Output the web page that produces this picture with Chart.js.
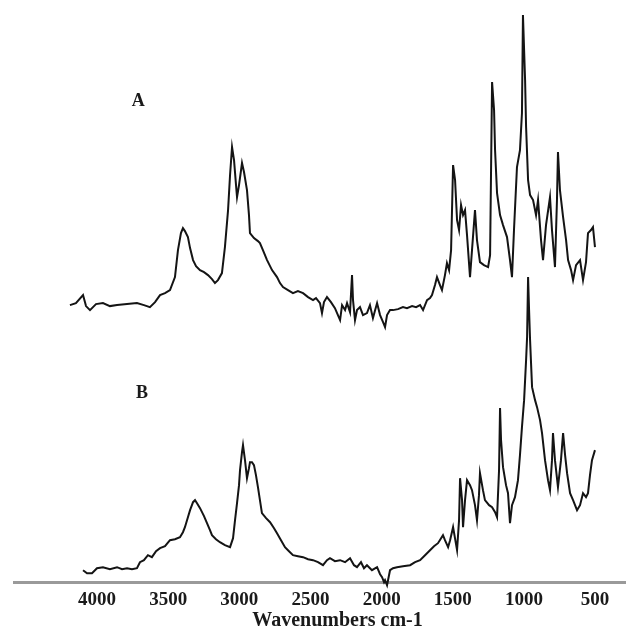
<!DOCTYPE html>
<html>
<head>
<meta charset="utf-8">
<script src="https://cdn.jsdelivr.net/npm/chart.js@4/dist/chart.umd.min.js"></script>
<style>
  html, body { margin: 0; padding: 0; background: #fff; }
  canvas { display: block; }
</style>
</head>
<body>
<canvas id="ir" width="626" height="628"></canvas>
<script>
// tick labels on the wavenumber axis
const tickLabels = [4000, 3500, 3000, 2500, 2000, 1500, 1000, 500];

// spectrum A (upper trace): wavenumber (cm-1) and intensity (a.u.)
const wnA = [4190, 4148, 4098, 4077, 4049, 4007, 3958, 3909, 3859, 3789, 3719, 3670, 3628, 3592, 3557, 3522, 3487, 3452, 3431, 3410,
  3396, 3382, 3361, 3346, 3325, 3304, 3276, 3248, 3220, 3192, 3171, 3150, 3122, 3101, 3079, 3065, 3051, 3037, 3023, 3016,
  3002, 2981, 2967, 2946, 2932, 2925, 2897, 2869, 2855, 2834, 2805, 2770, 2735, 2714, 2693, 2658, 2623, 2588, 2552, 2517,
  2482, 2461, 2433, 2419, 2405, 2384, 2356, 2328, 2307, 2292, 2278, 2257, 2243, 2222, 2208, 2201, 2187, 2173, 2152, 2131,
  2103, 2082, 2061, 2032, 2011, 1990, 1976, 1962, 1941, 1920, 1885, 1850, 1822, 1786, 1758, 1730, 1709, 1681, 1660, 1646,
  1625, 1611, 1590, 1576, 1555, 1541, 1526, 1512, 1498, 1484, 1470, 1456, 1442, 1428, 1414, 1400, 1379, 1365, 1344, 1330,
  1309, 1281, 1252, 1238, 1224, 1210, 1203, 1189, 1168, 1147, 1119, 1098, 1084, 1070, 1049, 1028, 1014, 1007, 992, 985,
  971, 957, 936, 915, 901, 880, 866, 845, 817, 803, 782, 768, 761, 747, 725, 704, 690, 669, 655, 634,
  606, 585, 564, 550, 529, 515, 501];
const intA = [277, 279, 287, 276, 272, 278, 279, 276, 277, 278, 279, 277, 275, 280, 287, 289, 292, 305, 332, 349,
  354, 351, 345, 334, 322, 316, 312, 310, 307, 303, 299, 302, 309, 335, 372, 407, 435, 422, 397, 385,
  397, 419, 410, 392, 367, 349, 344, 341, 339, 332, 322, 312, 305, 299, 295, 292, 289, 291, 289, 285,
  282, 284, 279, 269, 280, 285, 280, 274, 267, 262, 277, 272, 279, 270, 307, 282, 262, 272, 275, 267,
  269, 277, 264, 279, 267, 260, 255, 267, 272, 272, 273, 275, 274, 276, 275, 277, 272, 282, 284, 287,
  297, 305, 297, 292, 307, 319, 312, 332, 417, 402, 362, 352, 377, 367, 372, 347, 305, 332, 372, 342,
  320, 317, 315, 327, 500, 472, 432, 389, 367, 357, 345, 322, 305, 352, 415, 432, 469, 567, 502, 455,
  402, 387, 382, 367, 382, 342, 322, 357, 385, 352, 315, 382, 430, 392, 365, 342, 322, 312, 302, 317,
  322, 302, 320, 349, 352, 355, 335];

// spectrum B (lower trace)
const wnB = [4098, 4070, 4035, 4000, 3958, 3909, 3859, 3824, 3789, 3754, 3719, 3698, 3670, 3642, 3614, 3585, 3557, 3522, 3487, 3452,
  3417, 3396, 3382, 3361, 3346, 3325, 3311, 3297, 3276, 3248, 3227, 3206, 3192, 3164, 3136, 3101, 3065, 3044, 3030, 3016,
  3002, 2995, 2981, 2974, 2960, 2946, 2932, 2925, 2911, 2897, 2883, 2869, 2855, 2841, 2812, 2784, 2756, 2735, 2707, 2679,
  2651, 2623, 2588, 2552, 2517, 2482, 2447, 2412, 2384, 2363, 2328, 2292, 2257, 2222, 2194, 2173, 2145, 2124, 2103, 2068,
  2032, 2011, 1997, 1983, 1976, 1962, 1941, 1920, 1892, 1850, 1800, 1765, 1730, 1695, 1660, 1632, 1604, 1569, 1555, 1533,
  1519, 1498, 1470, 1456, 1449, 1435, 1428, 1414, 1400, 1379, 1365, 1344, 1330, 1316, 1309, 1288, 1274, 1245, 1224, 1203,
  1189, 1175, 1168, 1161, 1147, 1126, 1112, 1098, 1084, 1063, 1042, 1028, 1014, 999, 992, 985, 978, 971, 964, 957,
  943, 922, 908, 887, 873, 852, 831, 817, 803, 796, 782, 761, 740, 725, 711, 697, 676, 655, 627, 606,
  585, 564, 550, 536, 522, 501];
const intB = [12, 9, 9, 14, 15, 13, 15, 13, 14, 13, 14, 20, 22, 27, 25, 31, 34, 36, 42, 43,
  45, 50, 55, 65, 72, 80, 82, 79, 74, 66, 59, 52, 47, 43, 40, 37, 35, 44, 62, 79,
  97, 112, 130, 137, 122, 104, 114, 120, 120, 117, 107, 95, 82, 69, 64, 60, 54, 49, 42, 35,
  31, 27, 26, 25, 23, 22, 20, 17, 22, 24, 21, 22, 20, 24, 17, 15, 20, 14, 17, 12,
  15, 8, 5, 0, 2, -3, 12, 14, 15, 16, 17, 20, 22, 27, 32, 36, 39, 47, 42, 35,
  42, 55, 32, 62, 104, 82, 55, 82, 102, 97, 92, 77, 62, 87, 109, 92, 82, 77, 75, 70,
  65, 112, 174, 142, 115, 97, 89, 59, 77, 85, 102, 127, 155, 182, 202, 222, 245, 305, 272, 242,
  195, 182, 175, 162, 149, 122, 102, 92, 122, 149, 122, 95, 122, 149, 127, 109, 89, 82, 72, 77,
  89, 85, 89, 107, 122, 132];

const serif = '"Liberation Serif", "Times New Roman", serif';

// oznake A / B i naslov osi
const textPlugin = {
  id: 'texts',
  afterDraw(chart) {
    const { ctx, scales: { x, y } } = chart;
    ctx.save();
    ctx.fillStyle = '#1a1a1a';
    ctx.textAlign = 'center';
    ctx.textBaseline = 'middle';
    ctx.font = 'bold 18px ' + serif;
    ctx.fillText('A', x.getPixelForValue(3710), y.getPixelForValue(481));
    ctx.fillText('B', x.getPixelForValue(3684), y.getPixelForValue(189));
    ctx.font = 'bold 20px ' + serif;
    ctx.textBaseline = 'alphabetic';
    ctx.fillText('Wavenumbers cm-1', x.getPixelForValue(2310), chart.height - 2);
    ctx.restore();
  }
};

const toPoints = (xs, ys) => xs.map((v, i) => ({ x: v, y: ys[i] }));

new Chart(document.getElementById('ir'), {
  type: 'line',
  data: {
    datasets: [
      { label: 'A', data: toPoints(wnA, intA) },
      { label: 'B', data: toPoints(wnB, intB) }
    ]
  },
  options: {
    responsive: false,
    devicePixelRatio: 1,
    animation: false,
    clip: false,
    layout: { padding: { left: 14, right: 0, top: 0, bottom: 11 } },
    elements: {
      line: { borderColor: '#141414', borderWidth: 2, tension: 0, fill: false },
      point: { radius: 0 }
    },
    plugins: { legend: { display: false }, tooltip: { enabled: false } },
    scales: {
      x: {
        type: 'linear',
        reverse: true,
        min: 283,
        max: 4583,
        afterBuildTicks: axis => { axis.ticks = tickLabels.map(v => ({ value: v })); },
        grid: { display: false, drawTicks: false, tickLength: 0 },
        border: { display: true, color: '#9a9a9a', width: 3 },
        ticks: {
          padding: 6,
          maxRotation: 0,
          autoSkip: false,
          color: '#1a1a1a',
          font: { family: serif, size: 19, weight: 'bold' },
          callback: v => String(v)
        }
      },
      y: {
        type: 'linear',
        display: false,
        min: 0,
        max: 582
      }
    }
  },
  plugins: [textPlugin]
});
</script>
</body>
</html>
